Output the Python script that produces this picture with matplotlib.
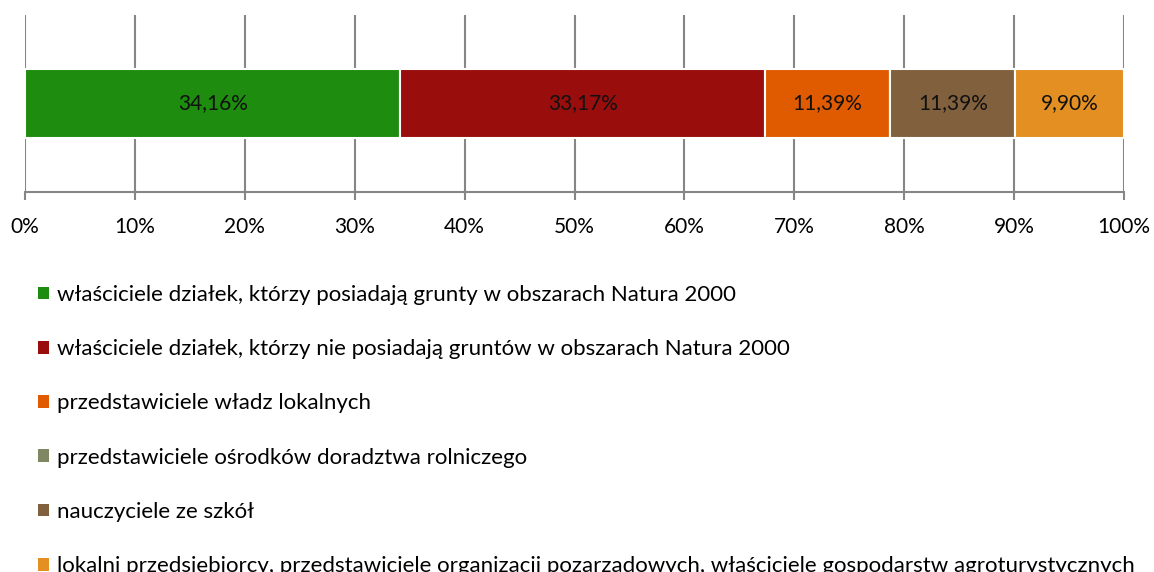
import matplotlib.pyplot as plt
from matplotlib.patches import Patch

plt.rcParams['font.family'] = ['Lato', 'DejaVu Sans']

# Data
categories = [
    'właściciele działek, którzy posiadają grunty w obszarach Natura 2000',
    'właściciele działek, którzy nie posiadają gruntów w obszarach Natura 2000',
    'przedstawiciele władz lokalnych',
    'przedstawiciele ośrodków doradztwa rolniczego',
    'nauczyciele ze szkół',
    'lokalni przedsiębiorcy, przedstawiciele organizacji pozarządowych, właściciele gospodarstw agroturystycznych',
]
values = [34.16, 33.17, 11.39, 0.0, 11.39, 9.90]
colors = ['#1E8C0E', '#990D0D', '#E05B00', '#7F8862', '#80603D', '#E38F22']
tick_values = [0, 10, 20, 30, 40, 50, 60, 70, 80, 90, 100]

fig = plt.figure(figsize=(11.54, 5.72), dpi=100)
W, H = 1154, 572
ax = fig.add_axes([25 / W, 1 - 192 / H, (1124 - 25) / W, (192 - 15) / H])

left = 0
for cat, val, col in zip(categories, values, colors):
    ax.barh(0, val, left=left, height=69 / 177, color=col, edgecolor='white',
            linewidth=1.5, label=cat, zorder=3)
    if val > 0:
        ax.text(left + val / 2, 0, f'{val:.2f}%'.replace('.', ','),
                ha='center', va='center', fontsize=15, color='#111111', zorder=4)
    left += val

ax.set_xlim(0, 100)
ax.set_ylim(-0.5, 0.5)
ax.set_xticks(tick_values)
ax.set_xticklabels([f'{t}%' for t in tick_values], fontsize=15)
ax.set_yticks([])
ax.grid(axis='x', color='#868686', linewidth=1.5, zorder=0)
for s in ['top', 'right', 'left']:
    ax.spines[s].set_visible(False)
ax.spines['bottom'].set_color('#868686')
ax.spines['bottom'].set_linewidth(1.5)
ax.tick_params(axis='x', direction='out', length=6, width=1.5, color='#868686', pad=12)

handles = [Patch(facecolor=c, edgecolor='none') for c in colors]
fig.legend(handles, categories, loc='upper left', bbox_to_anchor=(38 / W, 1 - 285 / H),
           frameon=False, fontsize=16, handlelength=0.5, handleheight=0.5,
           handletextpad=0.35, labelspacing=1.54, borderpad=0, borderaxespad=0)

fig.savefig('out.png', dpi=100)
